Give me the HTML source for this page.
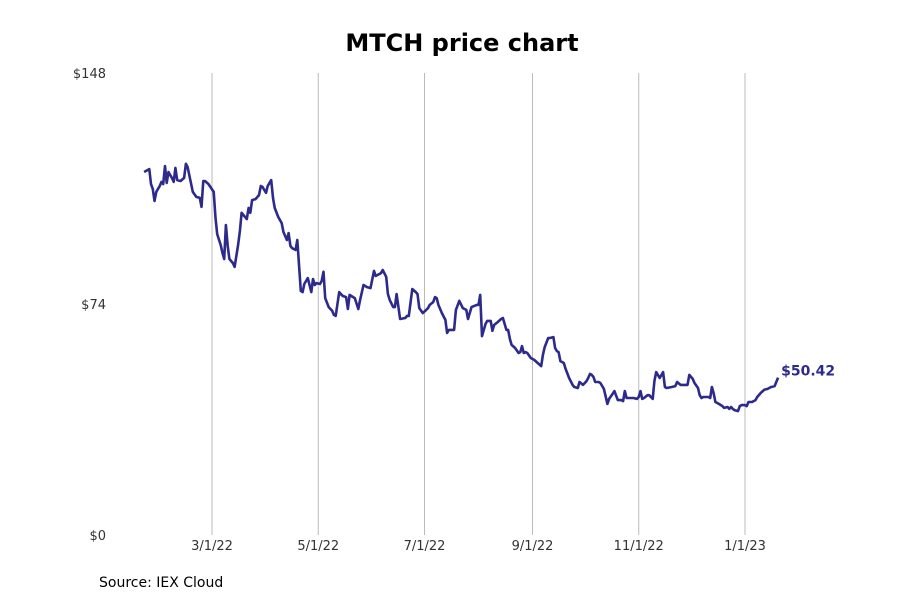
<!DOCTYPE html>
<html><head><meta charset="utf-8"><style>
html,body{margin:0;padding:0;background:#fff;}
svg{display:block;font-family:"DejaVu Sans","Liberation Sans",sans-serif;}
</style></head><body>
<svg id="chart" width="900" height="600" viewBox="0 0 900 600" xmlns="http://www.w3.org/2000/svg">
<text x="462" y="51" text-anchor="middle" font-size="24" font-weight="bold" fill="#000">MTCH price chart</text>
<g id="grid"></g>
<g id="yaxis"></g>
<g id="xaxis"></g>
<g id="plot"></g>
<text x="99" y="587" font-size="14" fill="#000">Source: IEX Cloud</text>
</svg>
<script>
// day offsets from 2022-01-01
const days = [20,23,24,25,26,27,29,30,31,32,33,34,35,36,37,38,39,41,43,44,45,48,50,52,53,54,55,57,60,61,62,64,65,66,67,68,69,71,72,74,75,76,79,80,81,82,84,86,87,88,90,91,93,94,95,97,99,100,102,103,104,105,107,108,110,111,112,114,116,117,118,119,121,122,123,124,126,128,129,130,132,133,134,136,137,138,140,141,143,144,146,148,150,152,153,154,156,157,159,160,161,163,164,165,167,170,171,172,174,176,177,178,180,182,183,184,186,187,188,189,191,193,194,195,198,199,201,203,204,205,206,208,211,212,213,214,216,217,219,220,221,223,225,226,228,229,230,231,233,235,236,237,238,239,240,242,244,246,248,249,250,252,253,255,256,257,258,259,261,262,264,266,267,269,270,272,274,275,276,277,278,279,281,282,284,286,287,289,290,292,294,295,296,297,299,300,301,303,304,305,306,307,309,310,312,313,314,316,318,319,320,323,325,326,328,329,331,332,333,335,336,338,339,340,341,343,344,345,346,347,348,350,352,353,355,356,357,358,359,361,362,363,365,366,367,369,371,372,374,376,378,380,382,384];
const prices = [116.3,117.2,112.4,110.8,107.0,109.9,111.8,113.1,112.4,118.2,112.8,116.3,115.3,114.4,113.1,117.6,113.7,113.4,114.4,118.9,117.9,109.9,108.3,108.0,105.1,113.4,113.4,112.4,109.9,101.6,96.4,92.9,90.3,88.4,99.3,92.6,88.4,87.1,85.9,92.9,97.4,103.2,101.2,104.8,103.2,107.3,107.6,108.9,111.8,111.5,109.6,111.8,113.7,108.0,104.8,101.9,99.9,97.1,94.5,96.7,92.6,91.9,91.3,94.5,78.2,77.8,80.4,82.3,77.8,82.0,80.1,80.7,80.4,81.4,84.3,75.9,73.0,71.8,70.5,70.2,77.8,77.2,76.6,76.2,72.4,76.9,76.2,75.9,72.4,75.3,80.1,79.4,79.1,84.6,83.0,83.3,83.9,84.9,82.7,77.2,75.3,73.0,73.0,77.2,69.2,69.5,70.2,70.2,78.8,77.8,77.2,72.7,71.1,72.1,72.7,73.7,74.6,76.2,75.9,73.7,71.1,68.9,64.7,65.7,65.7,72.1,75.0,72.7,72.4,72.1,69.2,73.0,73.7,73.7,76.9,63.7,67.6,68.6,68.6,65.4,67.3,68.2,69.2,69.5,65.7,65.7,62.8,60.9,59.9,58.3,58.6,60.5,58.3,58.6,58.3,56.7,56.1,55.1,54.1,57.7,60.2,63.1,63.1,63.4,59.9,58.9,58.6,55.7,55.1,53.2,50.3,48.1,47.4,47.1,49.0,48.1,49.3,50.3,51.6,51.3,50.6,49.0,49.0,48.7,46.8,42.0,43.6,45.2,46.1,43.2,43.2,42.9,46.1,43.9,43.9,43.9,43.9,43.6,44.2,46.1,43.6,43.9,44.8,44.8,43.6,49.3,52.2,50.3,52.2,47.4,47.1,47.4,47.7,49.0,48.1,48.1,48.1,48.1,51.3,50.0,48.7,47.1,44.8,43.9,44.2,44.2,44.2,43.9,47.4,45.5,42.6,42.0,41.3,40.7,41.0,40.4,41.0,40.4,40.0,39.7,41.3,41.6,41.6,41.3,42.6,42.6,43.2,44.2,45.5,46.5,46.8,47.4,47.7,50.42];
const yTicks = [0,74,148];
const yTickLabels = ["$0","$74","$148"];
const xTicks = [59,120,181,243,304,365];
const xTickLabels = ["3/1/22","5/1/22","7/1/22","9/1/22","11/1/22","1/1/23"];
const lastLabel = "$50.42";

const NS="http://www.w3.org/2000/svg";
const xS = d => 212 + (d-59)*(533/306);
const yS = v => 535 - v*(462/148);
function mk(tag, attrs, parent){const e=document.createElementNS(NS,tag);for(const k in attrs)e.setAttribute(k,attrs[k]);parent.appendChild(e);return e;}

const grid=document.getElementById('grid'), xa=document.getElementById('xaxis'), ya=document.getElementById('yaxis'), plot=document.getElementById('plot');
xTicks.forEach((d,i)=>{
  const l=mk('line',{x1:xS(d),x2:xS(d),y1:73,y2:535,stroke:'#bbbbbb','stroke-width':1},grid);
  
  
  const t=mk('text',{x:xS(d),y:550,'text-anchor':'middle','font-size':13,fill:'#333'},xa);
  t.textContent=xTickLabels[i];
  
  
});
yTicks.forEach((v,i)=>{
  const t=mk('text',{x:106,y:yS(v)+5,'text-anchor':'end','font-size':13,fill:'#333'},ya);
  t.textContent=yTickLabels[i];
  
  
});
const pts=days.map((d,i)=>xS(d).toFixed(1)+','+yS(prices[i]).toFixed(1)).join(' ');
const line=mk('polyline',{points:pts,fill:'none',stroke:'#2e2a8c','stroke-width':2.6,'stroke-linejoin':'round'},plot);


const n=days.length-1;
const lbl=mk('text',{x:xS(days[n])+3,y:yS(prices[n])-2,'font-size':14,'font-weight':'bold',fill:'#2e2a8c'},plot);
lbl.textContent=lastLabel;


</script>
</body></html>
